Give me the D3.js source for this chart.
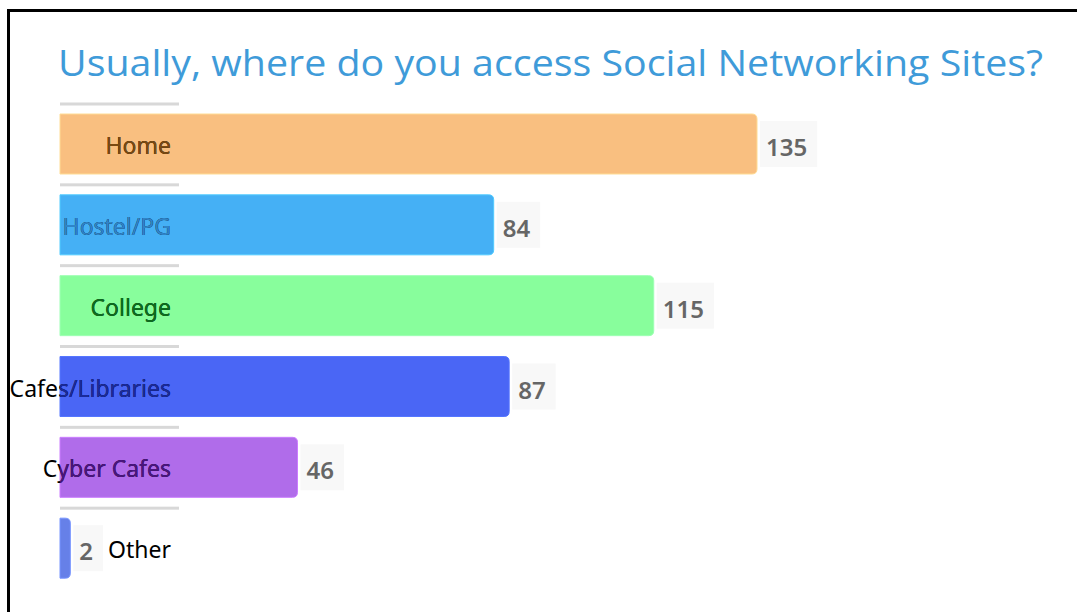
<!DOCTYPE html>
<html>
<head>
<meta charset="utf-8">
<script src="https://cdn.jsdelivr.net/npm/d3@7"></script>
<style>
  html, body { margin: 0; padding: 0; background: #fff; }
  svg { display: block; }
</style>
</head>
<body>
<svg id="chart" width="1077" height="612"></svg>
<script>
// Where respondents usually access social networking sites
const categories = ["Home", "Hostel/PG", "College", "Cafes/Libraries", "Cyber Cafes", "Other"];
const values = [135, 84, 115, 87, 46, 2];
const barColors = ["#f9bf80", "#45b0f5", "#88fe9c", "#4a66f5", "#b06cea", "#6680e8"];
const labelColors = ["#7a4a12", "#2f84c8", "#0c6e1e", "#1a2a9a", "#4a1580", "#1a2a9a"];
const title = "Usually, where do you access Social Networking Sites?";

const svg = d3.select("#chart");
const W = 1077, H = 612;

// frame lines (top and left)
svg.append("line").attr("x1", 7).attr("x2", W).attr("y1", 10.5).attr("y2", 10.5)
  .attr("stroke", "#000").attr("stroke-width", 3);
svg.append("line").attr("x1", 8.5).attr("x2", 8.5).attr("y1", 9).attr("y2", H)
  .attr("stroke", "#000").attr("stroke-width", 3);

// title
svg.append("text")
  .attr("x", 58).attr("y", 76)
  .attr("font-family", "'Open Sans', sans-serif")
  .attr("font-size", 36)
  .attr("fill", "#3f9bd9")
  .attr("textLength", 985)
  .attr("lengthAdjust", "spacingAndGlyphs")
  .text(title);

const x0 = 60;
const x = d3.scaleLinear().domain([0, 135]).range([x0, 757]);
const y = d3.scaleBand().domain(categories).range([104, 589]).paddingInner(0).paddingOuter(0);

const data = categories.map((c, i) => ({ c, v: values[i], color: barColors[i], lc: labelColors[i], i }));

const defs = svg.append("defs");
const g = svg.append("g");

const row = g.selectAll("g.row").data(data).join("g").attr("class", "row")
  .attr("transform", d => `translate(0,${y(d.c)})`);

// separator rule above each bar
row.append("rect")
  .attr("x", x0).attr("y", -1.5).attr("width", 119).attr("height", 3)
  .attr("fill", "#d8d8d8");

// bar path: square left edge, rounded right corners
function barPath(w, h, r) {
  r = Math.min(r, w / 2);
  return `M0,0H${w - r}Q${w},0 ${w},${r}V${h - r}Q${w},${h} ${w - r},${h}H0Z`;
}
const barTop = 10, barH = 60;

row.append("path")
  .attr("transform", `translate(${x0},${barTop})`)
  .attr("d", d => barPath(x(d.v) - x0, barH, 5))
  .attr("fill", d => d.color)
  .attr("stroke", d => d3.color(d.color).brighter(0.4))
  .attr("stroke-width", 1);

// clip regions matching each bar, for the tinted part of the category label
row.each(function (d) {
  defs.append("clipPath").attr("id", "clip" + d.i)
    .append("path")
    .attr("transform", `translate(${x0},${y(d.c) + barTop})`)
    .attr("d", barPath(x(d.v) - x0, barH, 5));
});

// value labels on a faint box
const valBox = row.append("rect")
  .attr("x", d => x(d.v) + 3)
  .attr("y", barTop + 7)
  .attr("height", 46)
  .attr("fill", "#f8f8f8");

const valText = row.append("text")
  .attr("x", d => x(d.v) + 9)
  .attr("y", barTop + 42)
  .attr("font-family", "'Noto Sans', sans-serif")
  .attr("font-weight", 600)
  .attr("font-size", 24)
  .attr("fill", "#666")
  .text(d => d.v);

valText.each(function (d) { d.valW = this.getComputedTextLength(); });
valBox.attr("width", d => d.valW + 16);

// category labels: black outside the bar, tinted where they overlap the bar
const labFont = "'Noto Sans', sans-serif";
const labX = 171;
row.append("text")
  .attr("x", labX).attr("y", barTop + 40)
  .attr("text-anchor", "end")
  .attr("font-family", labFont)
  .attr("font-size", 23)
  .attr("fill", "#000")
  .text(d => d.c);

g.selectAll("text.tint").data(data).join("text").attr("class", "tint")
  .attr("clip-path", d => `url(#clip${d.i})`)
  .attr("x", labX).attr("y", d => y(d.c) + barTop + 40)
  .attr("text-anchor", "end")
  .attr("font-family", labFont)
  .attr("font-size", 23)
  .attr("fill", d => d.lc)
  .text(d => d.c);
</script>
</body>
</html>
